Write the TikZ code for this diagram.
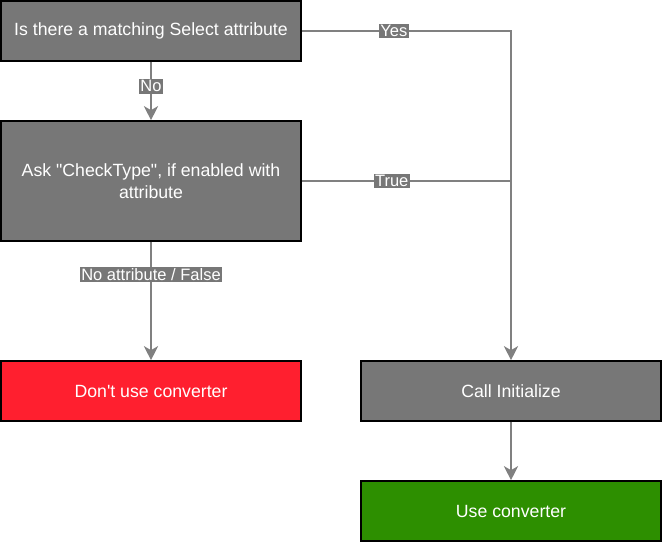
\documentclass[tikz,border=0pt]{standalone}
\usepackage{fontspec}
\setmainfont{Liberation Sans}
\usetikzlibrary{arrows.meta}
\definecolor{boxgray}{HTML}{777777}
\definecolor{linegray}{HTML}{808080}
\definecolor{stopred}{HTML}{FF1F2F}
\definecolor{gogreen}{HTML}{2D8F00}
\begin{document}
\begin{tikzpicture}%
	[x=1pt,y=-1pt,
	box/.style={draw=black, line width=1.6pt, fill=boxgray, text=white,
		minimum width=300pt, minimum height=60pt, inner sep=0pt,
		align=center, font=\fontsize{17.7}{22}\selectfont},
	tall/.style={minimum height=120pt},
	link/.style={draw=linegray, line width=2.6pt, -{Stealth[length=14pt,width=14pt,inset=4pt]}},
	wire/.style={draw=linegray, line width=2.6pt},
	tag/.style={fill=boxgray, text=white, inner sep=1.5pt,
		font=\fontsize{16.5}{18}\selectfont}]
%
\useasboundingbox (0,0) rectangle (663,543);
%%
%% Boxes
%%
\node[box] (select) at (151,31) {Is there a matching Select attribute};
\node[box,tall] (check) at (151,181) {Ask \textquotedbl CheckType\textquotedbl, if enabled with\\attribute};
\node[box,fill=stopred] (nouse) at (151,391) {Don\textquotesingle t use converter};
\node[box] (init) at (511,391) {Call Initialize};
\node[box,fill=gogreen] (use) at (511,511) {Use converter};
%%
%% Connectors
%%
\coordinate (join) at (check.east -| init.north);
\draw[link] (select) -- node[tag,pos=0.42] {No} (check);
\draw[link] (select) -| node[tag,pos=0.22] {Yes} (init);
\draw[wire] (check) -- node[tag,pos=0.43] {True} (join);
\draw[link] (check) -- node[tag,pos=0.275] {No attribute / False} (nouse);
\draw[link] (init) -- (use);
%%
\end{tikzpicture}
\end{document}
